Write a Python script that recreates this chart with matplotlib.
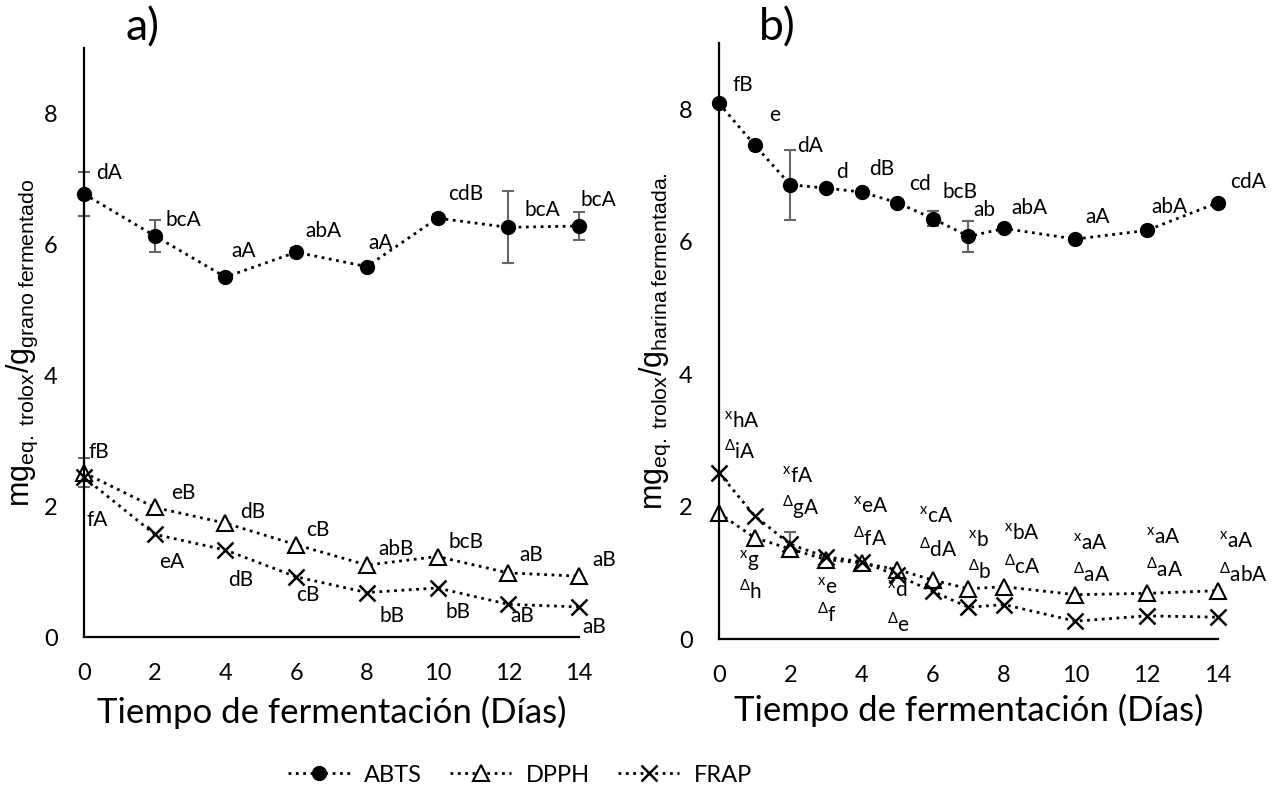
import matplotlib.pyplot as plt

plt.rcParams['font.family'] = ['Lato', 'DejaVu Sans']
plt.rcParams['mathtext.fontset'] = 'custom'
plt.rcParams['mathtext.rm'] = 'Lato'

# a) grano fermentado
dias_a = [0, 2, 4, 6, 8, 10, 12, 14]
abts_a = [6.77, 6.13, 5.50, 5.88, 5.66, 6.40, 6.26, 6.28]
abts_a_err = [0.34, 0.24, 0.05, 0.06, 0.0, 0.06, 0.55, 0.22]
dpph_a = [2.51, 1.98, 1.74, 1.41, 1.10, 1.23, 0.98, 0.93]
dpph_a_err = [0.22, 0, 0, 0, 0, 0, 0, 0]
frap_a = [2.44, 1.57, 1.33, 0.92, 0.68, 0.75, 0.50, 0.46]
abts_a_lbl = ['dA', 'bcA', 'aA', 'abA', 'aA', 'cdB', 'bcA', 'bcA']
dpph_a_lbl = ['fB', 'eB', 'dB', 'cB', 'abB', 'bcB', 'aB', 'aB']
frap_a_lbl = ['fA', 'eA', 'dB', 'cB', 'bB', 'bB', 'aB', 'aB']

# b) harina fermentada
dias_b = [0, 1, 2, 3, 4, 5, 6, 7, 8, 10, 12, 14]
abts_b = [8.09, 7.46, 6.86, 6.81, 6.75, 6.59, 6.35, 6.08, 6.20, 6.04, 6.17, 6.59]
abts_b_err = [0, 0.06, 0.53, 0, 0, 0, 0.12, 0.23, 0, 0, 0, 0]
dpph_b = [1.90, 1.53, 1.36, 1.20, 1.15, 1.05, 0.89, 0.76, 0.79, 0.67, 0.69, 0.73]
frap_b = [2.51, 1.86, 1.43, 1.24, 1.17, 0.96, 0.72, 0.48, 0.52, 0.27, 0.35, 0.33]
frap_b_err = [0, 0, 0.19, 0, 0, 0, 0, 0, 0, 0, 0, 0]
abts_b_lbl = ['fB', 'e', 'dA', 'd', 'dB', 'cd', 'bcB', 'ab', 'abA', 'aA', 'abA', 'cdA']
frap_b_lbl = ['hA', 'g', 'fA', 'e', 'eA', 'd', 'cA', 'b', 'bA', 'aA', 'aA', 'aA']
dpph_b_lbl = ['iA', 'h', 'gA', 'f', 'fA', 'e', 'dA', 'b', 'cA', 'aA', 'aA', 'abA']

# label offsets (pixels)
off_abts_a = [(12, 21), (11, 16), (6, 26), (9, 21), (2, 24), (11, 24), (16, 17), (2, 26)]
off_dpph_a = [(4, 21), (16, 14), (15, 11), (10, 15), (12, 16), (11, 15), (11, 18), (13, 16)]
off_frap_a = [(2, -43), (4, -28), (3, -30), (0, -18), (13, -23), (8, -24), (2, -12), (3, -20)]
off_abts_b = [(14, 18), (14, 30), (7, 39), (10, 16), (8, 23), (12, 19), (10, 27), (5, 26),
              (7, 20), (10, 22), (5, 23), (12, 21)]
# lower labels of b: x shift (days) and heights
shift_b = [0.13, -0.43, -0.22, -0.24, -0.23, -0.30, -0.39, -0.01, -0.01, -0.06, -0.01, 0.03]
ypos_x_b = [3.29, 1.19, 2.46, 0.78, 2.0, 0.73, 1.85, 1.49, 1.59, 1.45, 1.54, 1.47]
ypos_d_b = [2.84, 0.73, 2.0, 0.38, 1.54, 0.23, 1.37, 1.04, 1.11, 0.99, 1.06, 0.99]

fig = plt.figure(figsize=(12.73, 8), dpi=100)
ax1 = fig.add_axes([0.066, 0.2037, 0.3888, 0.7363])
ax2 = fig.add_axes([0.5648, 0.2012, 0.392, 0.745])

line_kw = dict(color='black', ls=':', lw=2, clip_on=False)
abts_kw = dict(marker='o', ms=10, **line_kw)
dpph_kw = dict(marker='^', ms=11, mfc='white', mec='black', mew=1.5, **line_kw)
frap_kw = dict(marker='x', ms=11, mew=1.8, **line_kw)


def errbars(ax, x, y, e):
    xs = [a for a, b in zip(x, e) if b > 0]
    ys = [a for a, b in zip(y, e) if b > 0]
    es = [b for b in e if b > 0]
    ax.errorbar(xs, ys, yerr=es, fmt='none', ecolor='#666666', elinewidth=1.5,
                capsize=4, capthick=1.5, zorder=1, clip_on=False)


def labels(ax, x, y, txt, offs):
    for xi, yi, t, (dx, dy) in zip(x, y, txt, offs):
        ax.annotate(t, (xi, yi), xytext=(dx, dy), textcoords='offset pixels',
                    ha='left', va='center', fontsize=15)


def style(ax, ylab, ylab_x, xlab_y):
    ax.set_xlim(0, 14)
    ax.set_ylim(0, 9)
    ax.set_xticks(range(0, 15, 2))
    ax.set_yticks([0, 2, 4, 6, 8])
    for s in ['top', 'right']:
        ax.spines[s].set_visible(False)
    for s in ['left', 'bottom']:
        ax.spines[s].set_linewidth(1.6)
    ax.tick_params(length=0, pad=19, labelsize=17)
    ax.set_xlabel('Tiempo de fermentación (Días)', fontsize=25)
    ax.xaxis.set_label_coords(0.5, xlab_y)
    ax.set_ylabel(ylab, fontsize=22, family='Liberation Sans')
    ax.yaxis.set_label_coords(ylab_x, 0.5)


# panel a
errbars(ax1, dias_a, abts_a, abts_a_err)
errbars(ax1, dias_a, dpph_a, dpph_a_err)
h1, = ax1.plot(dias_a, abts_a, label='ABTS', **abts_kw)
h2, = ax1.plot(dias_a, dpph_a, label='DPPH', **dpph_kw)
h3, = ax1.plot(dias_a, frap_a, label='FRAP', **frap_kw)
labels(ax1, dias_a, abts_a, abts_a_lbl, off_abts_a)
labels(ax1, dias_a, dpph_a, dpph_a_lbl, off_dpph_a)
labels(ax1, dias_a, frap_a, frap_a_lbl, off_frap_a)
style(ax1, r'mg$_{\mathregular{eq.\:trolox}}$/g$_{\mathregular{grano\:fermentado}}$',
      -0.088, -0.1)
ax1.text(0.119, 1.034, 'a)', transform=ax1.transAxes, fontsize=32, ha='center', va='center')

# panel b
errbars(ax2, dias_b, abts_b, abts_b_err)
errbars(ax2, dias_b, frap_b, frap_b_err)
ax2.plot(dias_b, abts_b, **abts_kw)
ax2.plot(dias_b, dpph_b, **dpph_kw)
ax2.plot(dias_b, frap_b, **frap_kw)
labels(ax2, dias_b, abts_b, abts_b_lbl, off_abts_b)
for d, s, yx, yd, tx, td in zip(dias_b, shift_b, ypos_x_b, ypos_d_b, frap_b_lbl, dpph_b_lbl):
    ax2.text(d + s, yx, r'$^{\mathregular{x}}$' + tx, ha='left', va='center', fontsize=15)
    ax2.text(d + s, yd, r'$^{\mathregular{Δ}}$' + td, ha='left', va='center', fontsize=15)
style(ax2, r'mg$_{\mathregular{eq.\:trolox}}$/g$_{\mathregular{harina\:fermentada.}}$',
      -0.092, -0.092)
ax2.text(0.116, 1.025, 'b)', transform=ax2.transAxes, fontsize=32, ha='center', va='center')

fig.legend([h1, h2, h3], ['ABTS', 'DPPH', 'FRAP'], loc='center',
           bbox_to_anchor=(520 / 1273, 1 - 775 / 800), ncol=3, frameon=False,
           fontsize=17, handlelength=2.6, handletextpad=0.6, columnspacing=1.2)

fig.savefig('out.png', dpi=100)
